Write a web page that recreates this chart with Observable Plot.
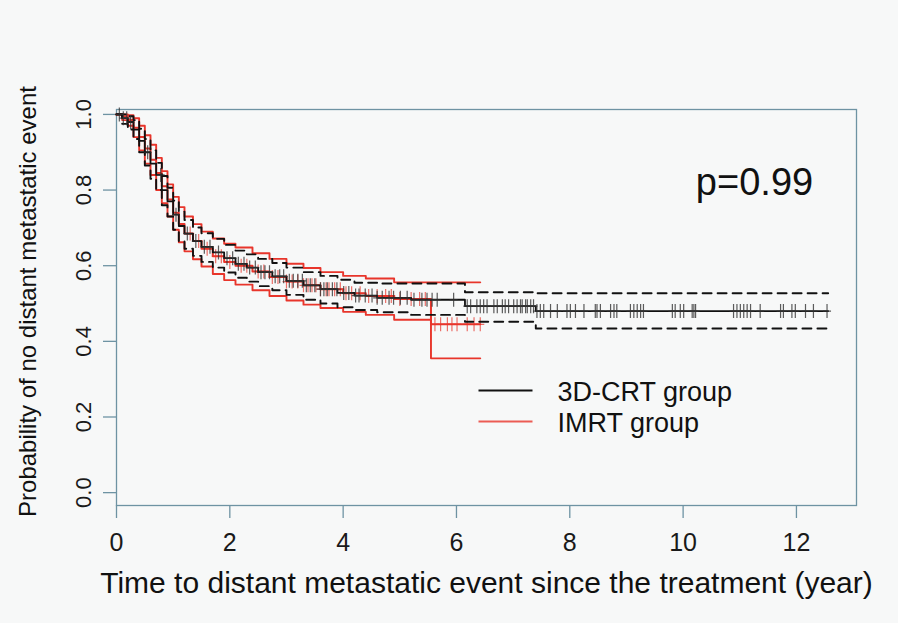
<!DOCTYPE html>
<html><head><meta charset="utf-8">
<script src="https://cdn.jsdelivr.net/npm/d3@7"></script>
<script src="https://cdn.jsdelivr.net/npm/@observablehq/plot@0.6"></script>
<style>
html,body{margin:0;padding:0;background:#f7f8f8;}
#chart{width:898px;height:623px;}
</style></head><body><div id="chart"></div>
<script>
// ---- 3D-CRT group (black) Kaplan-Meier estimate with 95% CI ----
const crtTime  = [0,0.1,0.2,0.3,0.4,0.5,0.6,0.7,0.8,0.9,1.0,1.1,1.2,1.35,1.5,1.7,1.9,2.1,2.3,2.5,2.75,3.0,3.3,3.6,3.9,4.2,4.6,5.2,6.15,7.4];
const crtSurv  = [1,0.99,0.98,0.96,0.93,0.9,0.87,0.84,0.8,0.77,0.735,0.705,0.685,0.665,0.65,0.635,0.62,0.605,0.595,0.583,0.572,0.56,0.548,0.538,0.528,0.521,0.515,0.51,0.493,0.48];
const crtUpper = [1,1,0.995,0.985,0.962,0.935,0.905,0.872,0.837,0.806,0.772,0.743,0.721,0.701,0.686,0.671,0.655,0.64,0.63,0.618,0.607,0.595,0.583,0.573,0.563,0.555,0.553,0.553,0.53,0.527];
const crtLower = [1,0.975,0.96,0.935,0.9,0.865,0.83,0.8,0.76,0.73,0.695,0.665,0.645,0.626,0.61,0.595,0.582,0.568,0.558,0.546,0.535,0.523,0.51,0.5,0.49,0.483,0.477,0.47,0.452,0.434];
const crtEnd = 12.56;
const crtCensor = [0.05,0.12,0.18,0.25,0.55,0.78,1.05,1.25,1.4,1.55,1.65,1.8,1.95,2.05,2.15,2.25,2.35,2.45,2.55,2.62,2.7,2.8,2.88,2.95,3.05,3.12,3.2,3.28,3.35,3.42,3.5,
  3.6,3.66,3.72,3.81,3.89,4.01,4.1,4.22,4.28,4.39,4.51,4.6,4.69,4.81,4.89,5.01,5.13,5.25,5.39,5.48,5.57,5.66,5.95,6.19,6.25,6.36,6.42,6.48,6.54,6.66,6.72,6.81,6.86,6.92,7.01,7.07,7.13,7.16,7.22,7.25,7.31,7.36,
  7.42,7.48,7.54,7.66,7.78,7.95,8.01,8.1,8.25,8.45,8.48,8.54,8.72,8.78,8.83,9.07,9.13,9.19,9.25,9.3,9.81,9.86,9.95,10.01,10.16,10.19,10.22,10.89,10.95,11.01,11.07,11.13,11.19,11.36,11.72,11.77,11.92,11.98,12.16,12.3,12.54];

// ---- IMRT group (red) Kaplan-Meier estimate with 95% CI ----
const imrtTime  = [0,0.1,0.2,0.3,0.4,0.5,0.6,0.7,0.8,0.9,1.0,1.1,1.2,1.35,1.5,1.7,1.9,2.1,2.4,2.7,3.0,3.3,3.6,4.0,4.4,4.9,5.55];
const imrtSurv  = [1,0.995,0.985,0.965,0.94,0.91,0.88,0.845,0.81,0.775,0.74,0.71,0.685,0.665,0.645,0.625,0.61,0.6,0.585,0.57,0.558,0.548,0.538,0.527,0.52,0.512,0.445];
const imrtUpper = [1,1,0.998,0.99,0.97,0.945,0.92,0.885,0.85,0.815,0.782,0.755,0.73,0.71,0.69,0.672,0.658,0.648,0.633,0.618,0.605,0.594,0.583,0.573,0.566,0.556,0.556];
const imrtLower = [1,0.985,0.97,0.94,0.905,0.87,0.84,0.8,0.765,0.73,0.695,0.662,0.638,0.617,0.598,0.578,0.562,0.55,0.535,0.52,0.508,0.497,0.488,0.478,0.47,0.457,0.355];
const imrtEnd = 6.42;
const imrtCensor = [1.3,1.45,1.6,1.75,1.85,2.0,2.2,2.3,2.5,2.6,2.75,2.85,3.0,3.1,3.2,3.3,3.38,3.45,3.52,3.6,3.7,3.75,3.85,3.95,4.05,4.15,4.3,4.45,4.6,4.75,4.85,5.0,5.2,5.35,5.45,
  5.62,5.72,5.84,5.92,6.01,6.19,6.31,6.42];

// ---- axes / labels ----
const xTicks = [0,2,4,6,8,10,12];
const yTicks = [0,0.2,0.4,0.6,0.8,1.0];
const xTitle = "Time to distant metastatic event since the treatment (year)";
const yTitle = "Probability of no distant metastatic event";
const pText = "p=0.99";
const groups = ["3D-CRT group", "IMRT group"];
const groupColors = ["#111111", "#e8352b"];

const frameColor = "#6e93a3";
const font = "'Liberation Sans', Arial, Helvetica, sans-serif";

function steps(times, vals, end) {
  const rows = times.map((t, i) => ({t, v: vals[i]}));
  rows.push({t: end, v: vals[vals.length - 1]});
  return rows;
}
function valueAt(times, vals, t) {
  return vals[Math.max(0, d3.bisectRight(times, t) - 1)];
}
const tickSym = {draw(ctx) { ctx.moveTo(0, -7); ctx.lineTo(0, 7); ctx.moveTo(-4, 0); ctx.lineTo(4, 0); }};
const legendSym = {draw(ctx) { ctx.moveTo(-27, 0); ctx.lineTo(27, 0); }};

const crtCens = crtCensor.map(t => ({t, v: valueAt(crtTime, crtSurv, t)}));
const imrtCens = imrtCensor.map(t => ({t, v: valueAt(imrtTime, imrtSurv, t)}));

const stepLine = (rows, opts) => Plot.line(rows, {x: "t", y: "v", curve: "step-after", ...opts});
const legendMarks = groups.flatMap((g, i) => [
  Plot.dot([g], {frameAnchor: "top-left", dx: 389, dy: 281 + 31 * i, symbol: legendSym, stroke: groupColors[i], fill: "none", strokeWidth: 2, strokeOpacity: i ? 0.8 : 1}),
  Plot.text([g], {frameAnchor: "top-left", dx: 441, dy: 283 + 31 * i, text: d => d, textAnchor: "start", lineAnchor: "middle", fontSize: 27, fill: "#111"})
]);

const chart = Plot.plot({
  width: 898, height: 623,
  marginLeft: 116, marginRight: 42, marginTop: 109, marginBottom: 118,
  style: {background: "#f7f8f8", fontFamily: font, color: "#1a1a1a", overflow: "visible"},
  x: {domain: [0, 13.06]},
  y: {domain: [-0.034, 1.013]},
  marks: [
    Plot.frame({stroke: frameColor, strokeWidth: 1.3}),
    Plot.axisX({ticks: xTicks, tickSize: 13, tickPadding: 15, stroke: frameColor, strokeWidth: 1.3, fontSize: 25, label: null, tickFormat: d => String(d)}),
    Plot.axisY({ticks: yTicks, tickSize: 13, tickPadding: 13, tickRotate: -90, stroke: frameColor, strokeWidth: 1.3, fontSize: 22, label: null, tickFormat: d => d.toFixed(1)}),
    // IMRT
    stepLine(steps(imrtTime, imrtUpper, imrtEnd), {stroke: groupColors[1], strokeWidth: 1.9}),
    stepLine(steps(imrtTime, imrtLower, imrtEnd), {stroke: groupColors[1], strokeWidth: 1.9}),
    stepLine(steps(imrtTime, imrtSurv, imrtEnd), {stroke: groupColors[1], strokeWidth: 2}),
    Plot.dot(imrtCens, {x: "t", y: "v", symbol: tickSym, stroke: groupColors[1], fill: "none", strokeWidth: 1.2, strokeOpacity: 0.7}),
    // 3D-CRT
    stepLine(steps(crtTime, crtUpper, crtEnd), {stroke: groupColors[0], strokeWidth: 1.9, strokeDasharray: "9,6"}),
    stepLine(steps(crtTime, crtLower, crtEnd), {stroke: groupColors[0], strokeWidth: 1.9, strokeDasharray: "9,6"}),
    stepLine(steps(crtTime, crtSurv, crtEnd), {stroke: groupColors[0], strokeWidth: 1.8}),
    Plot.dot(crtCens, {x: "t", y: "v", symbol: tickSym, stroke: "#333", fill: "none", strokeWidth: 1.2, strokeOpacity: 0.8}),
    // p value
    Plot.text([pText], {frameAnchor: "top-right", dx: -102, dy: 59, text: d => d, fontSize: 38, textAnchor: "middle", fill: "#111"}),
    ...legendMarks,
    // titles
    Plot.text([xTitle], {frameAnchor: "bottom", dy: 87, text: d => d, fontSize: 30, textAnchor: "middle", fill: "#111"}),
    Plot.text([yTitle], {frameAnchor: "left", dx: -88, dy: -6, rotate: -90, text: d => d, fontSize: 24, textAnchor: "middle", fill: "#111"})
  ]
});
document.getElementById("chart").appendChild(chart);
</script></body></html>
